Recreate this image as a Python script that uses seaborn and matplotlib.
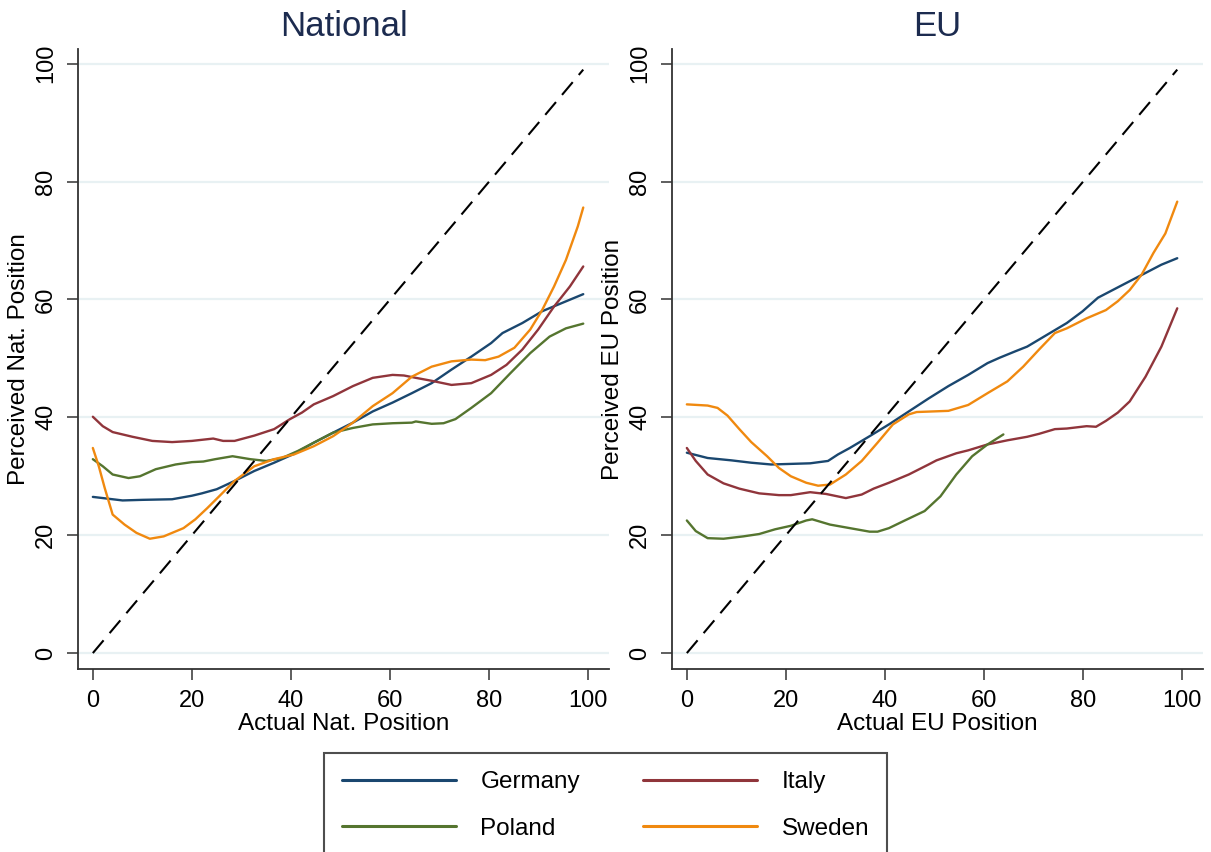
import pandas as pd
import seaborn as sns
import matplotlib.pyplot as plt
from matplotlib.lines import Line2D

# Daten
countries = ["Germany", "Italy", "Poland", "Sweden"]
colors = {"Germany": "#1a476f", "Italy": "#90353b", "Poland": "#55752f", "Sweden": "#f0890f"}

# National
nat_ger_x = [0, 3, 6, 10, 16, 20, 22, 25, 28.6, 32.6, 36.6, 40.6, 44.6, 48.5, 52.5, 56.5, 60.5, 64.4, 68.4,
             72.4, 76.4, 80.4, 82.7, 86.7, 90.7, 94.7, 99]
nat_ger_y = [26.5, 26.2, 25.9, 26.0, 26.1, 26.7, 27.1, 27.8, 29.2, 30.9, 32.3, 33.8, 35.7, 37.4, 39.1, 41.0, 42.5,
             44.1, 45.8, 48.1, 50.3, 52.6, 54.3, 56.0, 58.0, 59.4, 60.9]
nat_ita_x = [0, 2, 4, 8, 12, 16, 20, 24.3, 26.3, 28.6, 32.6, 36.6, 39.8, 42.2, 44.6, 48.5, 52.5, 56.5, 60.5, 62.8,
             65.2, 68.4, 72.4, 76.4, 80.4, 83.5, 86.7, 89.9, 93.1, 96.3, 99]
nat_ita_y = [40.1, 38.5, 37.5, 36.7, 36.0, 35.8, 36.0, 36.4, 36.0, 36.0, 36.9, 38.0, 39.7, 40.8, 42.2, 43.6, 45.3,
             46.7, 47.2, 47.1, 46.7, 46.2, 45.5, 45.8, 47.2, 48.9, 51.5, 54.9, 58.8, 62.2, 65.6]
nat_pol_x = [0, 2, 4, 7.2, 9.5, 12.7, 16.7, 20, 22.3, 24.7, 28.2, 31.8, 35, 38.2, 41.4, 44.6, 48.5, 52.5, 56.5,
             60.5, 64.4, 65.2, 68.4, 70.8, 73.2, 76.4, 80.4, 84.3, 88.3, 92.2, 95.5, 99]
nat_pol_y = [32.9, 31.7, 30.3, 29.7, 30.0, 31.2, 32.0, 32.4, 32.5, 32.9, 33.4, 32.9, 32.6, 33.1, 34.3, 35.7, 37.4,
             38.2, 38.8, 39.0, 39.1, 39.3, 38.9, 39.0, 39.7, 41.6, 44.1, 47.5, 50.9, 53.7, 55.1, 55.9]
nat_swe_x = [0, 1.2, 2.4, 4, 6.4, 8.8, 11.5, 14.3, 18.3, 20.7, 23.1, 25.5, 28.6, 32.6, 36.6, 40.6, 44.6, 48.5,
             52.5, 56.5, 60.5, 64.4, 68.4, 72.4, 76.4, 79.2, 81.9, 85.1, 88.3, 90.7, 93.1, 95.5, 97.9, 99]
nat_swe_y = [34.8, 31.7, 28.0, 23.5, 21.8, 20.4, 19.4, 19.8, 21.2, 22.7, 24.6, 26.6, 29.2, 31.7, 32.9, 33.7, 35.1,
             36.8, 39.1, 41.9, 44.1, 46.9, 48.6, 49.5, 49.8, 49.7, 50.3, 51.8, 54.9, 58.2, 62.2, 66.7, 72.4, 75.6]

# EU
eu_ger_x = [0, 4.2, 9, 13, 17, 21, 24.9, 28.5, 30.5, 32.9, 36.9, 40.8, 44.8, 48.8, 52.8, 56.8, 60.7, 63.1, 66.3,
            68.7, 72.7, 76.7, 79.9, 83, 86.2, 89.4, 92.6, 95.8, 99]
eu_ger_y = [34.0, 33.1, 32.7, 32.3, 32.0, 32.1, 32.2, 32.6, 33.7, 34.8, 36.8, 38.8, 41.0, 43.2, 45.3, 47.2, 49.2,
            50.1, 51.2, 52.0, 54.0, 56.0, 58.0, 60.3, 61.7, 63.1, 64.5, 65.9, 67.0]
eu_ita_x = [0, 1.8, 4.2, 7.4, 10.6, 14.6, 18.6, 21, 24.9, 28.1, 32.1, 35.3, 37.7, 40.8, 44.8, 48.8, 50.4, 54.4,
            56.8, 60.7, 64.7, 68.7, 71.1, 74.3, 76.7, 80.7, 82.6, 84.6, 87, 89.4, 92.6, 95.8, 99]
eu_ita_y = [34.8, 32.6, 30.3, 28.8, 27.9, 27.1, 26.8, 26.8, 27.3, 27.0, 26.3, 26.9, 27.9, 28.9, 30.3, 32.0, 32.7,
            33.9, 34.4, 35.4, 36.1, 36.7, 37.2, 38.0, 38.1, 38.5, 38.4, 39.4, 40.8, 42.7, 46.9, 52.0, 58.5]
eu_pol_x = [0, 1.8, 4.2, 7.4, 11.4, 14.6, 17.8, 21, 24.1, 25.3, 28.9, 32.9, 36.9, 38.5, 40.8, 44, 48, 51.2, 54.4,
            57.6, 60.7, 63.9]
eu_pol_y = [22.5, 20.7, 19.5, 19.4, 19.8, 20.2, 21.0, 21.6, 22.5, 22.7, 21.8, 21.2, 20.6, 20.6, 21.2, 22.5, 24.1,
            26.6, 30.3, 33.4, 35.4, 37.1]
eu_swe_x = [0, 4.2, 6.2, 8.2, 10.6, 13, 16.2, 18.6, 21, 24.1, 26.5, 28.9, 32.1, 35.3, 38.5, 41.6, 44.8, 46.4, 52.8,
            56.8, 60.7, 64.7, 67.9, 71.1, 74.3, 76.7, 80.7, 84.6, 87, 89.4, 91.8, 94.2, 96.6, 99]
eu_swe_y = [42.2, 42.0, 41.6, 40.3, 38.0, 35.8, 33.4, 31.4, 30.0, 28.9, 28.4, 28.6, 30.3, 32.6, 35.7, 38.8, 40.5,
            40.9, 41.1, 42.1, 44.1, 46.1, 48.6, 51.5, 54.3, 55.1, 56.8, 58.2, 59.7, 61.6, 64.2, 67.9, 71.2, 76.6]

diag = [0, 99]


def build(series):
    parts = []
    for country, xs, ys in series:
        parts.append(pd.DataFrame({"x": xs, "y": ys, "country": country}))
    return pd.concat(parts, ignore_index=True)


df_nat = build([("Germany", nat_ger_x, nat_ger_y), ("Italy", nat_ita_x, nat_ita_y),
                ("Poland", nat_pol_x, nat_pol_y), ("Sweden", nat_swe_x, nat_swe_y)])
df_eu = build([("Germany", eu_ger_x, eu_ger_y), ("Italy", eu_ita_x, eu_ita_y),
               ("Poland", eu_pol_x, eu_pol_y), ("Sweden", eu_swe_x, eu_swe_y)])

sns.set_style("white")
plt.rcParams["font.family"] = ["Liberation Sans", "DejaVu Sans"]
plt.rcParams["text.color"] = "black"
plt.rcParams["axes.labelcolor"] = "black"
plt.rcParams["xtick.color"] = "black"
plt.rcParams["ytick.color"] = "black"

fig = plt.figure(figsize=(12.11, 8.52), dpi=100)
ax1 = fig.add_axes([0.0644, 0.2148, 0.4385, 0.7277])
ax2 = fig.add_axes([0.5549, 0.2148, 0.4385, 0.7277])

panels = [(ax1, df_nat, "National", "Actual Nat. Position", "Perceived Nat. Position"),
          (ax2, df_eu, "EU", "Actual EU Position", "Perceived EU Position")]

for ax, d, title, xl, yl in panels:
    for v in [0, 20, 40, 60, 80, 100]:
        ax.axhline(v, color="#e8f1f3", lw=1.6, zorder=0)
    sns.lineplot(data=d, x="x", y="y", hue="country", palette=colors, hue_order=countries,
                 estimator=None, sort=False, lw=1.7, legend=False, ax=ax)
    sns.lineplot(x=diag, y=diag, color="black", lw=1.5, ax=ax, dashes=False)
    ax.lines[-1].set_dashes((8, 4.5))
    ax.set_xlim(-3, 104.2)
    ax.set_ylim(-2.7, 102.5)
    ax.set_xticks([0, 20, 40, 60, 80, 100])
    ax.set_yticks([0, 20, 40, 60, 80, 100])
    ax.tick_params(axis="both", direction="out", length=8, width=1.1, color="#333333",
                   labelsize=17, pad=7, bottom=True, left=True)
    for lab in ax.get_yticklabels():
        lab.set_rotation(90)
        lab.set_va("center")
    ax.spines["top"].set_visible(False)
    ax.spines["right"].set_visible(False)
    for s in ["left", "bottom"]:
        ax.spines[s].set_color("#333333")
        ax.spines[s].set_linewidth(1.3)
    ax.set_title(title, fontsize=25, color="#1c2b4f", pad=9)
    ax.set_xlabel(xl, fontsize=17.5, labelpad=1)
    ax.set_ylabel(yl, fontsize=17.5, labelpad=4)

handles = [Line2D([], [], color=colors[c], lw=2.2) for c in countries]
# zeilenweise: Germany, Italy / Poland, Sweden
order = [0, 2, 1, 3]
leg = fig.legend([handles[i] for i in order], [countries[i] for i in order], ncol=2,
                 loc="upper center", bbox_to_anchor=(0.5, 1 - 753 / 852), fontsize=17.5,
                 frameon=True, fancybox=False, handlelength=4.7, handletextpad=1.0,
                 columnspacing=2.6, labelspacing=1.0, borderpad=0.75, borderaxespad=0)
leg.get_frame().set_edgecolor("#222222")
leg.get_frame().set_linewidth(1.5)

fig.savefig("out.png", dpi=100)
